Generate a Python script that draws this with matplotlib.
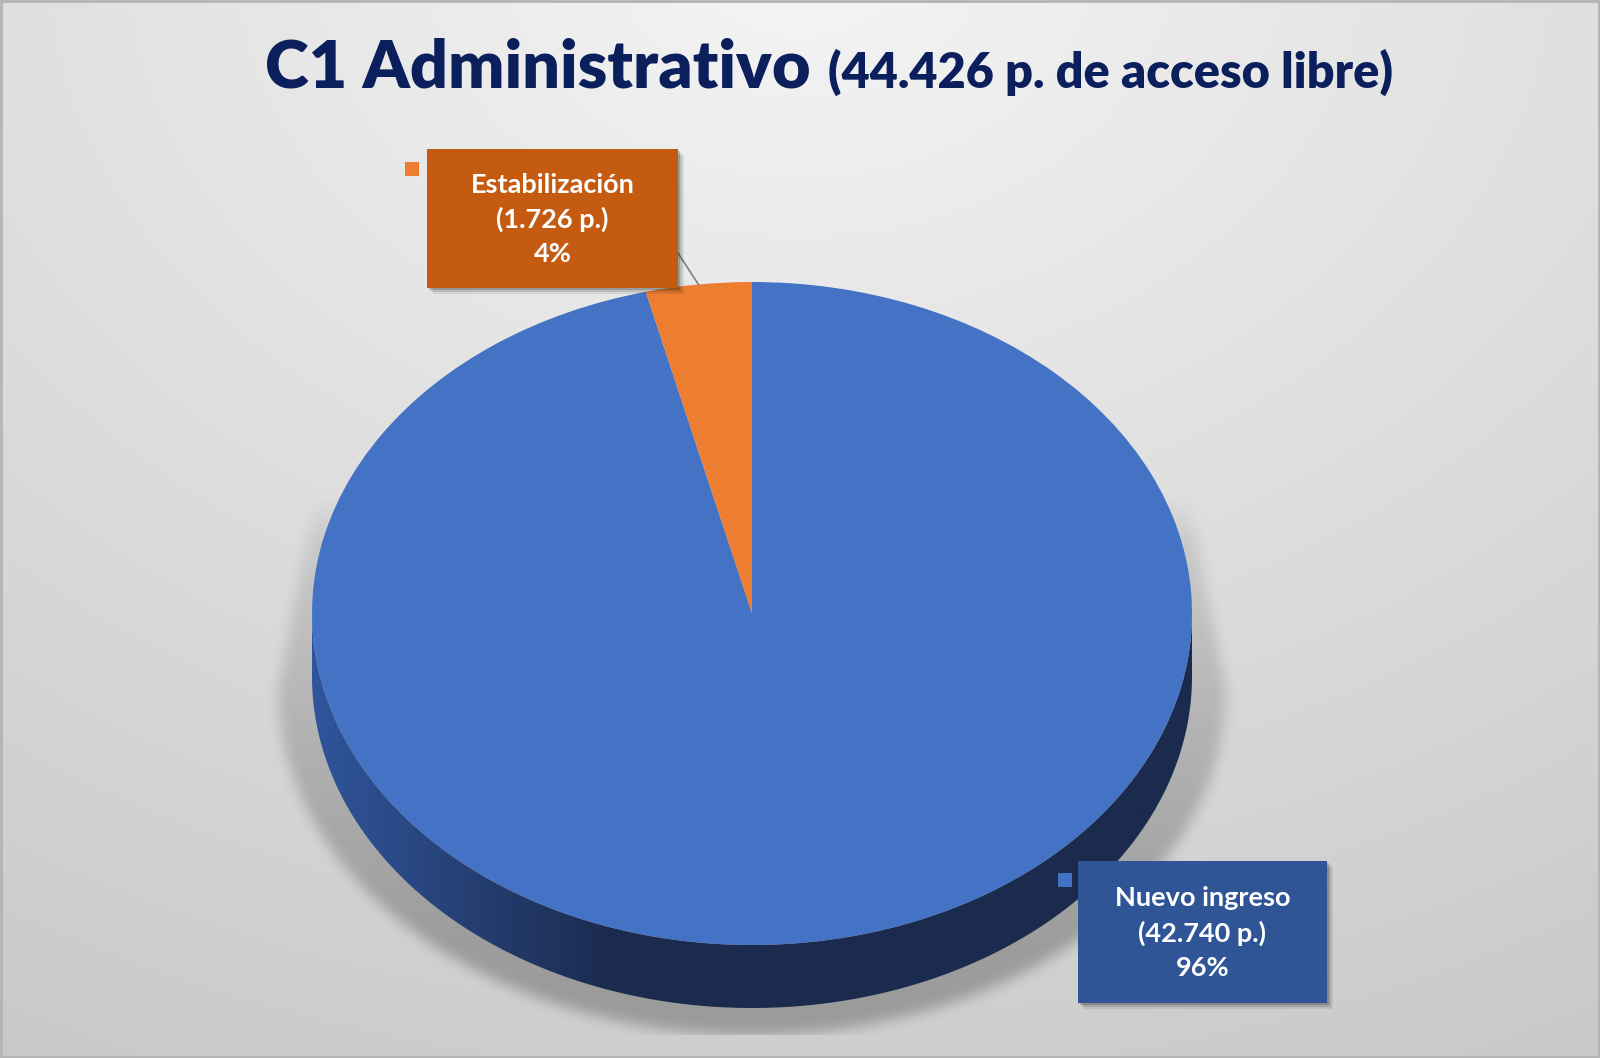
import numpy as np
import matplotlib.pyplot as plt
from matplotlib.patches import Rectangle, Polygon
from matplotlib.path import Path

# datos del gráfico
categorias = ["Nuevo ingreso", "Estabilización"]
plazas = [42740, 1726]
colores = ["#4472C4", "#ED7D31"]
colores_caja = ["#2F5597", "#C55A11"]
titulo = "C1 Administrativo"
subtitulo = "(44.426 p. de acceso libre)"

W, H = 1600, 1058
fig = plt.figure(figsize=(16, 10.58), dpi=100)

# ejes de fondo en píxeles (y hacia abajo)
bg = fig.add_axes([0, 0, 1, 1])
bg.set_xlim(0, W)
bg.set_ylim(H, 0)
bg.axis('off')

# geometría de la tarta (píxeles)
cx, cy, a, b, prof = 752, 613.5, 440, 331.5, 63

# fondo degradado radial
yy, xx = np.mgrid[0:H, 0:W] + 0.5
r = np.sqrt(((xx - 800) / 1.35) ** 2 + (yy + 40) ** 2) / 1000
fondo = 0.96 - 0.14 * np.clip(r, 0, 1.3)

# sombra proyectada bajo la tarta
t = np.linspace(np.pi, 0, 200)
sx, sy, sa, sb = cx, 690, 474, 345
arco = np.column_stack([sx + sa * np.cos(t), sy + sb * np.sin(t)])
poly = np.vstack([[[cx + (cx - 315), 500], [315, 500]], arco])
dentro = Path(poly).contains_points(np.column_stack([xx.ravel(), yy.ravel()])).reshape(H, W)
k = 0.08 + 0.17 * np.clip((yy - 520) / 420, 0, 1)
sombra = dentro * k


def box_blur(img, rad, axis):
    c = np.cumsum(np.pad(img, [(rad + 1, rad) if i == axis else (0, 0) for i in range(2)], mode='edge'), axis=axis)
    if axis == 0:
        return (c[2 * rad + 1:] - c[:-2 * rad - 1]) / (2 * rad + 1)
    return (c[:, 2 * rad + 1:] - c[:, :-2 * rad - 1]) / (2 * rad + 1)


for _ in range(2):
    sombra = box_blur(sombra, 7, 0)
    sombra = box_blur(sombra, 7, 1)
sombra *= np.clip((yy - 490) / 50, 0, 1)
sombra[yy > 1035] = 0

gris = fondo * (1 - sombra)
bg.imshow(np.dstack([gris, gris, gris]), extent=(0, W, H, 0), zorder=0, interpolation='bilinear')

# lateral del cilindro con degradado
tt = np.linspace(np.pi, 0, 300)
lado = np.vstack([
    np.column_stack([cx + a * np.cos(tt), cy + prof + b * np.sin(tt)]),
    np.column_stack([cx + a * np.cos(tt[::-1]), cy + b * np.sin(tt[::-1])]),
])
lado_patch = Polygon(lado, closed=True, facecolor='none', edgecolor='none')
bg.add_patch(lado_patch)
xg = np.linspace(cx - a, cx + a, 400)
f = np.clip((xg - (cx - a)) / 300, 0, 1)
c0 = np.array([0x30, 0x55, 0x9c]) / 255
c1 = np.array([0x1b, 0x2b, 0x4e]) / 255
grad = (c0[None, :] * (1 - f[:, None]) + c1[None, :] * f[:, None])[None, :, :]
im = bg.imshow(grad, extent=(cx - a, cx + a, cy + b + prof + 2, cy), aspect='auto', zorder=1)
im.set_clip_path(lado_patch)
bg.set_xlim(0, W)
bg.set_ylim(H, 0)

# tarta (cara superior)
pie_ax = fig.add_axes([(cx - a) / W, (H - (cy + b)) / H, 2 * a / W, 2 * b / H])
pie_ax.pie(plazas, colors=colores, startangle=90, counterclock=False,
           wedgeprops=dict(linewidth=0, antialiased=True))
pie_ax.set_aspect('auto')
pie_ax.set_xlim(-1, 1)
pie_ax.set_ylim(-1, 1)
pie_ax.axis('off')

# capa de etiquetas
lab = fig.add_axes([0, 0, 1, 1])
lab.set_xlim(0, W)
lab.set_ylim(H, 0)
lab.axis('off')

total = sum(plazas)
cajas = {
    "Estabilización": dict(x0=427, y0=149, x1=678, y1=288, sq=(405, 162)),
    "Nuevo ingreso": dict(x0=1078, y0=861, x1=1327, y1=1003, sq=(1058, 873)),
}

# línea guía hacia la porción pequeña
ang_ini = 90
for cat, v in zip(categorias, plazas):
    ang_fin = ang_ini - v / total * 360
    if cat == "Estabilización":
        med = np.radians((ang_ini + ang_fin) / 2)
        px, py = cx + a * np.cos(med), cy - b * np.sin(med)
        lab.plot([678, px], [253, py], color='#7f7f7f', lw=1.2, zorder=2)
    ang_ini = ang_fin

for cat, v, col in zip(categorias, plazas, colores_caja):
    c = cajas[cat]
    w, h = c["x1"] - c["x0"], c["y1"] - c["y0"]
    for off, al in [(6, 0.08), (4, 0.12), (2, 0.18)]:
        lab.add_patch(Rectangle((c["x0"] + off, c["y0"] + off), w, h, facecolor='black',
                                alpha=al, edgecolor='none', zorder=3))
    lab.add_patch(Rectangle((c["x0"], c["y0"]), w, h, facecolor=col, edgecolor='none', zorder=4))
    lab.add_patch(Rectangle(c["sq"], 14, 14, facecolor=colores[categorias.index(cat)],
                            edgecolor='none', zorder=4))
    pct = round(v / total * 100)
    lineas = [cat, "({} p.)".format(f"{v:,}".replace(",", ".")), f"{pct}%"]
    ymid = (c["y0"] + c["y1"]) / 2 + 1
    xmid = (c["x0"] + c["x1"]) / 2
    for i, txt in enumerate(lineas):
        lab.text(xmid, ymid + (i - 1) * 34.5, txt, ha='center', va='center', fontsize=19.5,
                 fontweight='bold', color='white', family='Lato', zorder=5)

# título en dos tamaños
t1 = lab.text(0, 0, titulo, fontsize=52, fontweight='heavy', color='#0B1F5C', family='Lato',
              ha='left', va='baseline')
t2 = lab.text(0, 0, subtitulo, fontsize=38, fontweight='heavy', color='#0B1F5C', family='Lato',
              ha='left', va='baseline')
fig.canvas.draw()
rend = fig.canvas.get_renderer()
w1 = t1.get_window_extent(rend).width
w2 = t2.get_window_extent(rend).width
gap = 18
esc = (1393 - 265) / (w1 + w2 + gap)
t1.set_fontsize(52 * esc)
t2.set_fontsize(38 * esc)
t1.set_position((265, 88))
t2.set_position((265 + (w1 + gap) * esc, 88))

# borde
lab.add_patch(Rectangle((1, 1), W - 2, H - 2, facecolor='none', edgecolor='#b4b4b4', lw=2, zorder=6))

fig.savefig('out.png', dpi=100)
